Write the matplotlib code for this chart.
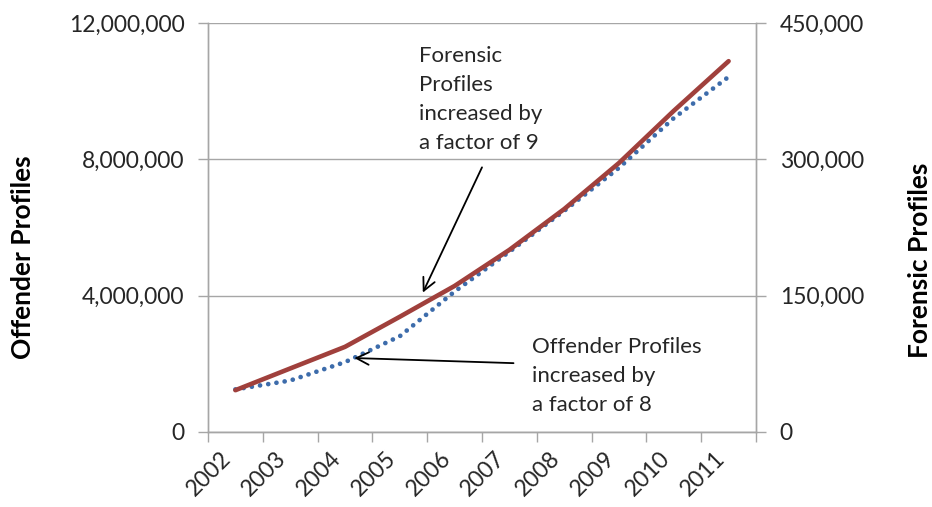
import matplotlib
matplotlib.use("Agg")
import matplotlib.pyplot as plt
import matplotlib.transforms as mtransforms
import numpy as np

years = ["2002", "2003", "2004", "2005", "2006", "2007", "2008", "2009", "2010", "2011"]
offender = [1250000, 1510000, 2050000, 2810000, 4120000, 5290000, 6490000, 7750000, 9210000, 10420000]
forensic = [46000, 69900, 93700, 126800, 160700, 200400, 245300, 296000, 353400, 408000]

left_ticks = [0, 4000000, 8000000, 12000000]
right_ticks = [0, 150000, 300000, 450000]

plt.rcParams['font.family'] = ['Lato', 'DejaVu Sans']
W, H = 932, 507
fig = plt.figure(figsize=(W / 100, H / 100), dpi=100)
L, R, T, B = 208, 756, 23, 432
ax = fig.add_axes([L / W, 1 - B / H, (R - L) / W, (B - T) / H])
ax2 = ax.twinx()

grey = "#a6a6a6"
txt = "#262626"
x = np.arange(len(years))

ax.plot(x, offender, color="#3d6cab", lw=3.4, linestyle=(0, (0.01, 1.75)),
        dash_capstyle="round", zorder=3)
ax2.plot(x, forensic, color="#a0403c", lw=3.3, solid_capstyle="round", zorder=3)

ax.set_xlim(-0.5, len(years) - 0.5)
ax.set_ylim(0, 12000000)
ax2.set_ylim(0, 450000)

ax.set_yticks(left_ticks)
ax.set_yticklabels([f"{v:,}" for v in left_ticks])
ax2.set_yticks(right_ticks)
ax2.set_yticklabels([f"{v:,}" for v in right_ticks])

ax.set_xticks(np.arange(-0.5, len(years), 1.0))
ax.set_xticklabels([])
ax.set_xticks(x, minor=True)
ax.set_xticklabels(years, minor=True, rotation=45, ha="right", va="top")
off = mtransforms.ScaledTranslation(4 / 100, 0, fig.dpi_scale_trans)
for lab in ax.get_xticklabels(minor=True):
    lab.set_transform(lab.get_transform() + off)

ax.tick_params(axis="x", which="major", length=7, color=grey, width=1)
ax.tick_params(axis="x", which="minor", length=0, pad=11, labelsize=16.5, labelcolor=txt)
ax.tick_params(axis="y", length=7, color=grey, width=1, pad=10, labelsize=16.5, labelcolor=txt)
ax2.tick_params(axis="y", length=7, color=grey, width=1, pad=10, labelsize=16.5, labelcolor=txt)

ax.grid(axis="y", color=grey, lw=1)
ax.set_axisbelow(True)
for s in ["top"]:
    ax.spines[s].set_visible(False)
    ax2.spines[s].set_visible(False)
for a in (ax, ax2):
    for s in ["left", "right", "bottom"]:
        a.spines[s].set_color(grey)
        a.spines[s].set_linewidth(1)

fig.text(23 / W, 1 - 257.5 / H, "Offender Profiles", rotation=90, ha="center", va="center",
         fontsize=19, fontweight="bold", color="black")
fig.text(920 / W, 1 - 260 / H, "Forensic Profiles", rotation=90, ha="center", va="center",
         fontsize=19, fontweight="bold", color="black")

arrowprops = dict(arrowstyle="->,head_length=0.9,head_width=0.45", color="black", lw=1.3,
                  shrinkA=0, shrinkB=0)
ax.annotate("", xy=(3.42, 4090000), xytext=(4.50, 7765000), arrowprops=arrowprops, zorder=5)
ax.annotate("", xy=(2.17, 2170000), xytext=(5.075, 2020000), arrowprops=arrowprops, zorder=5)

ax.text(3.356, 11.33e6, "Forensic\nProfiles\nincreased by\na factor of 9", ha="left", va="top",
        fontsize=16, color=txt, linespacing=1.57, zorder=6)
ax.text(5.42, 2.8e6, "Offender Profiles\nincreased by\na factor of 8", ha="left", va="top",
        fontsize=16, color=txt, linespacing=1.57, zorder=6)

fig.savefig("out.png", dpi=100)
